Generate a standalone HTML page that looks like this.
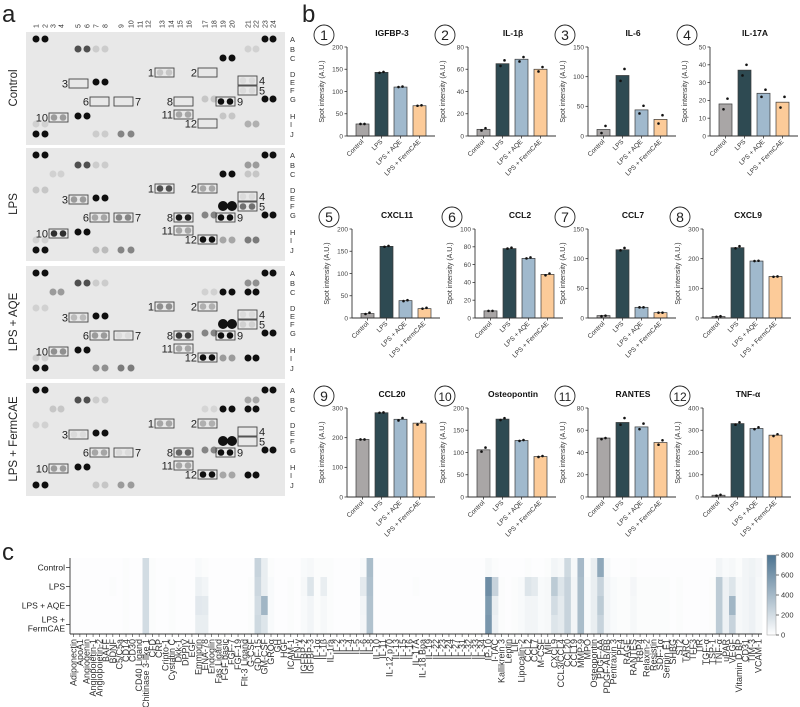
<!DOCTYPE html>
<html><head><meta charset="utf-8">
<style>
html,body{margin:0;padding:0;background:#fff;}
svg{display:block;font-family:"Liberation Sans",Arial,sans-serif;}
</style></head>
<body>
<svg id="fig" width="800" height="707" viewBox="0 0 800 707" xmlns="http://www.w3.org/2000/svg">
<defs>
<linearGradient id="cbgrad" x1="0" y1="1" x2="0" y2="0">
<stop offset="0" stop-color="#ffffff"/><stop offset="1" stop-color="#4c7390"/>
</linearGradient>
</defs>
<text x="2" y="22" font-size="24" fill="#222">a</text>
<text x="302" y="22" font-size="24" fill="#222">b</text>
<text x="2" y="560" font-size="24" fill="#222">c</text>
</svg>
<script>
// ---------- Bar chart data (panel b) ----------
const groups = ["Control","LPS","LPS + AQE","LPS + FermCAE"];
const chartTitles = ["IGFBP-3","IL-1β","IL-6","IL-17A","CXCL11","CCL2","CCL7","CXCL9","CCL20","Osteopontin","RANTES","TNF-α"];
const chartMax = [200,80,150,50,200,100,150,300,300,200,80,400];
const chartStep = [50,20,50,10,50,20,50,100,100,50,20,100];
const controlMeans = [27,6,11,18,10,8,4,5,194,106,53,8];
const lpsMeans = [143,65,102,37,161,78,115,237,284,175,67,330];
const aqeMeans = [110,69,44,24,39,67,18,192,262,127,63,308];
const fermMeans = [68,60,28,19,21,49,9,140,249,91,49,278];
const controlDots = [[27,27],[5,7],[5,17],[15,21],[9,12],[8,8],[3,4],[4,6],[194,194],[102,111],[52,53],[6,10]];
const lpsDots = [[142,144],[63,68],[93,113],[34,40],[160,162],[78,79],[114,118],[235,242],[284,285],[173,177],[65,71],[325,336]];
const aqeDots = [[110,111],[67,71],[38,51],[22,26],[38,40],[67,68],[18,18],[192,193],[258,266],[126,128],[61,66],[305,313]];
const fermDots = [[68,69],[58,62],[21,35],[16,22],[21,23],[48,50],[9,9],[139,140],[244,254],[90,92],[47,51],[274,282]];

// ---------- Heatmap data (panel c) ----------
const heatRows = ["Control","LPS","LPS + AQE","LPS +\nFermCAE"];
const analytes = ["Adiponectin","ApoA1","Angiogenin","Angiopoietin-1","Angiopoietin-2","BAFF","BDNF","C5/C5a","CD14","CD30","CD40 Ligand","Chitinase 3-like 1","CFD","CRP","Cripto-1","Cystatin C","Dkk-1","DPPIV","EGF","Emmprin","ENA-78","Endoglin","Fas Ligand","FGF basic","FGF-7","FGF-19","Flt-3 Ligand","G-CSF","GDF-15","GM-CSF","GROα","GH","HGF","ICAM-1","IFN-γ","IGFBP-2","IGFBP-3","IL-1α","IL-1β","IL-1ra","IL-2","IL-3","IL-4","IL-5","IL-6","IL-8","IL-10","IL-11","IL-12 p70","IL-13","IL-15","IL-16","IL-17A","IL-18 Bpa","IL-19","IL-22","IL-23","IL-24","IL-27","IL-31","IL-32","IL-33","IL-34","IP-10","I-TAC","Kallikrein 3","Leptin","LIF","Lipocalin-2","CCL2","CCL7","M-CSF","MIF","CXCL9","CCL3/CCL4","CCL20","CCL19","MMP-9","MPO","Osteopontin","PDGF-AA","PDGF-AB/BB","Pentraxin 3","PF4","RAGE","RANTES","RBP4","Relaxin-2","Resistin","SDF-1α","Serpin E1","SHBG","ST2","TARC","TFF3","TfR","TGF-α","TSP-1","TNF-α","uPAR","VEGF","Vitamin D BP","CD31","TIM-3","VCAM-1"];
const ctrlHeat = [10,10,10,10,10,10,10,10,20,10, 10,200,20,10,10,10,10,10,10,30, 20,10,10,10,10,10,10,10,250,100, 20,10,10,10,10,30,40,20,20,20, 10,10,10,10,30,380,10,10,10,10, 10,10,10,10,10,10,10,10,10,10, 10,10,10,40,20,10,10,10,10,20, 10,10,20,60,40,220,40,400,20,100, 500,40,10,10,10,20,10,10,10,10, 10,10,10,10,10,10,10,10,60,30, 40,20,60,70,50];
const lpsHeat = [10,10,10,10,10,10,20,10,20,10, 10,200,20,10,10,20,10,10,10,80, 60,10,10,10,10,10,10,20,230,100, 30,10,10,20,10,40,150,20,100,20, 10,10,10,10,120,360,10,10,10,10, 10,10,20,10,10,10,10,10,10,10, 10,10,10,650,250,20,10,20,30,150, 120,30,40,300,150,250,60,380,30,100, 250,60,30,20,20,50,20,20,20,20, 20,10,20,10,10,10,10,20,300,80, 150,40,60,80,40];
const aqeHeat = [10,10,10,10,10,10,10,10,20,10, 10,200,20,10,10,20,10,10,10,130, 120,10,10,10,10,10,10,20,200,420, 30,10,10,20,10,30,60,20,40,20, 10,10,10,10,60,350,10,10,10,10, 10,10,10,10,10,10,10,10,10,10, 10,10,10,580,100,20,10,20,30,60, 60,30,40,200,120,250,60,380,30,100, 300,60,30,20,20,40,20,20,20,20, 20,10,20,10,10,10,10,20,300,80, 420,40,60,80,40];
const fermHeat = [10,10,10,10,10,10,10,10,20,10, 10,200,20,10,10,20,10,10,10,100, 100,10,10,10,10,10,10,20,220,150, 30,10,10,20,10,30,60,20,40,20, 10,10,10,10,50,350,10,10,10,10, 10,10,10,10,10,10,10,10,10,10, 10,10,10,600,80,20,10,20,30,60, 60,30,40,150,120,250,60,380,30,100, 250,60,30,20,20,40,20,20,20,20, 20,10,20,10,10,10,10,20,300,80, 250,40,60,80,40];
const colorTicks = [0,200,400,600,800];

const svg = document.getElementById('fig');
const NS = 'http://www.w3.org/2000/svg';
function mk(tag, attrs, parent){ const e=document.createElementNS(NS,tag); for(const k in attrs) e.setAttribute(k,attrs[k]); (parent||svg).appendChild(e); return e; }

// ---------- Panel a: blots ----------
const colX = [36,45,53,61,78,87,96,105,121,131,140,148,162,171,180,189,205,214,223,232,248,256,265,273];
const rowY = {A:7,B:17,C:26,D:42,E:50,F:58,G:67,H:84,I:92,J:102};
const panelTops = [32,148,266,383];
const panelNames = ["Control","LPS","LPS + AQE","LPS + FermCAE"];
const boxes = [
 {n:"1",x:155,y:36,side:"l"},{n:"2",x:198,y:36,side:"l"},{n:"3",x:69,y:47,side:"l"},
 {n:"4",x:238,y:44,side:"r"},{n:"5",x:238,y:54,side:"r"},{n:"6",x:90,y:65,side:"l"},
 {n:"7",x:114,y:65,side:"r"},{n:"8",x:174,y:65,side:"l"},{n:"9",x:216,y:65,side:"r"},
 {n:"10",x:49,y:81,side:"l"},{n:"11",x:174,y:78,side:"l"},{n:"12",x:198,y:87,side:"l"}];
const boxVals = [
 [0.15,0,0,0.05,0.05,0,0,0,1,0.35,0.3,0],
 [0.7,0.3,0.35,0.05,0.55,0.3,0.45,0.95,1,0.85,0.3,1],
 [0.4,0.25,0.2,0.05,0.1,0.35,0.05,0.8,1,0.4,0.3,1],
 [0.3,0.25,0.05,0,0,0.3,0.05,0.6,1,0.35,0.3,1]];
const common = [[1,'A',1],[23,'A',1],[5,'B',0.7],[7,'B',0.12],[19,'C',1],[7,'E',1],[23,'G',1],[5,'H',1],[1,'J',1]];
const extra = [
 [[21,'B',0.1],[17,'G',0.15],[19,'H',0.15],[1,'I',0.1],[7,'J',0.12],[9,'J',0.45],[21,'I',0.25]],
 [[21,'B',0.35],[21,'C',0.15],[3,'C',0.1],[1,'D',0.15],[17,'G',0.45],[19,'I',0.3],[21,'I',0.5],[1,'I',0.1],[7,'J',0.2],[9,'J',0.45]],
 [[21,'B',0.4],[21,'C',1],[17,'C',0.1],[3,'C',0.35],[1,'D',0.1],[17,'G',0.45],[19,'I',0.35],[21,'I',1],[1,'I',0.1],[7,'J',0.4],[9,'J',0.5]],
 [[21,'B',0.3],[21,'C',1],[17,'C',0.08],[3,'C',0.15],[1,'D',0.1],[17,'G',0.45],[19,'I',0.3],[21,'I',1],[7,'J',0.15],[9,'J',0.35]]];
function gray(v){ const c=Math.round(230-(230-15)*v); return `rgb(${c},${c},${c})`; }
const colNums = mk('g',{});


colX.forEach((x,i)=>{ const t=mk('text',{x:0,y:0,'font-size':7,fill:'#333',transform:`translate(${x+2.5},28) rotate(-90)`},colNums); t.textContent=String(i+1); });
panelTops.forEach((top,p)=>{
  const g=mk('g',{});
  
  
  mk('rect',{x:26,y:top,width:259,height:113,fill:'#e8e8e8'},g);
  const lbl=mk('text',{x:0,y:0,'font-size':11.5,fill:'#222','text-anchor':'middle',transform:`translate(17,${top+56}) rotate(-90)`},g);
  
  
  lbl.textContent=panelNames[p];
  Object.keys(rowY).forEach(r=>{ const t=mk('text',{x:290,y:top+rowY[r]+3,'font-size':7.5,fill:'#333'},g); t.textContent=r; });
  const spots=common.concat(extra[p]);
  spots.forEach(s=>{ const y=top+rowY[s[1]]; [s[0]-1,s[0]].forEach(c=>{ mk('circle',{cx:colX[c],cy:y,r:3.5,fill:gray(s[2])},g); }); });
  if(p>0){ [223,232].forEach(x=>mk('circle',{cx:x,cy:top+58,r:5,fill:'#111'},g)); }
  boxes.forEach((b,i)=>{
    const bg=mk('g',{},g);
    
    
    const v=boxVals[p][i];
    if(v>0.02){ [b.x+5,b.x+14].forEach(x=>mk('circle',{cx:x,cy:top+b.y+4.5,r:3.3,fill:gray(v)},bg)); }
    mk('rect',{x:b.x,y:top+b.y,width:19,height:9,fill:'none',stroke:'#444','stroke-width':0.9},bg);
    const t=mk('text',{x:b.side==='l'?b.x-1:b.x+21,y:top+b.y+8.5,'font-size':11,fill:'#222','text-anchor':b.side==='l'?'end':'start'},bg);
    t.textContent=b.n;
  });
});

// ---------- Panel b: bar charts ----------
const seriesMeans=[controlMeans,lpsMeans,aqeMeans,fermMeans];
const seriesDots=[controlDots,lpsDots,aqeDots,fermDots];
const seriesColors=['#a9a6a6','#2e4a52','#a0b9cd','#fccb99'];
const axisXs=[[347,468,588,710],[352,475,588,703],[347,468,588,703]];
const rowTop=[47,229,408];
const PH=89, AXL=88;
chartTitles.forEach((title,k)=>{
  const row=Math.floor(k/4), col=k%4;
  const ax=axisXs[row][col], top=rowTop[row], base=top+PH;
  const yScale=v=>base-v/chartMax[k]*PH;
  const xScale=i=>ax+9+i*19;
  const g=mk('g',{});
  
  
  mk('circle',{cx:ax-23,cy:top-12,r:10,fill:'none',stroke:'#222','stroke-width':0.9},g);
  const cn=mk('text',{x:ax-23,y:top-7,'font-size':k>=9?12:14,fill:'#222','text-anchor':'middle'},g);
  
  
  cn.textContent=String(k+1);
  const tt=mk('text',{x:ax+45,y:top-11,'font-size':8.5,'font-weight':'bold',fill:'#111','text-anchor':'middle'},g);
  
  
  tt.textContent=title;
  const yl=mk('text',{x:0,y:0,'font-size':7,fill:'#333','text-anchor':'middle',transform:`translate(${ax-23},${top+PH/2}) rotate(-90)`},g);
  
  
  yl.textContent='Spot intensity (A.U.)';
  for(let v=0; v<=chartMax[k]; v+=chartStep[k]){
    const y=yScale(v);
    mk('line',{x1:ax-2.5,x2:ax,y1:y,y2:y,stroke:'#333','stroke-width':0.8},g);
    const t=mk('text',{x:ax-4,y:y+2.3,'font-size':6.5,fill:'#444','text-anchor':'end'},g);
    
    
    t.textContent=String(v);
  }
  groups.forEach((gname,i)=>{
    const m=seriesMeans[i][k], x=xScale(i);
    const r=mk('rect',{x:x,y:yScale(m),width:13,height:base-yScale(m),fill:seriesColors[i],stroke:'#3a3a3a','stroke-width':0.7},g);
    
    
    mk('line',{x1:x+6.5,x2:x+6.5,y1:base,y2:base+2.5,stroke:'#333','stroke-width':0.8},g);
    seriesDots[i][k].forEach((d,j)=>{
      const dt=mk('circle',{cx:x+6.5+(j?2:-2),cy:yScale(d),r:1.3,fill:'#111'},g);
      
      
    });
    const xl=mk('text',{x:0,y:0,'font-size':6.5,fill:'#333','text-anchor':'end',transform:`translate(${x+8},${base+6}) rotate(-45)`},g);
    
    
    xl.textContent=gname;
  });
  mk('line',{x1:ax,x2:ax,y1:top,y2:base,stroke:'#333','stroke-width':0.9},g);
  mk('line',{x1:ax,x2:ax+AXL,y1:base,y2:base,stroke:'#333','stroke-width':0.9},g);
});

// ---------- Panel c: heatmap ----------
const HX=70, HW=692, HT=558, RH=19;
const heatData=[ctrlHeat,lpsHeat,aqeHeat,fermHeat];
const cw=HW/analytes.length;
function heatColor(v){ const t=Math.min(1,v/800); const a=[255,255,255], b=[76,115,144]; return `rgb(${a.map((c,i)=>Math.round(c+(b[i]-c)*t)).join(',')})`; }
const hg=mk('g',{});


heatData.forEach((row,r)=>{
  row.forEach((v,c)=>{
    const cell=mk('rect',{x:HX+c*cw,y:HT+r*RH,width:cw+0.4,height:RH+0.4,fill:heatColor(v)},hg);
    
    
  });
});
heatRows.forEach((name,r)=>{
  const y=HT+r*RH+RH/2;
  mk('line',{x1:HX-4,x2:HX,y1:y,y2:y,stroke:'#333','stroke-width':0.8},hg);
  const t=mk('text',{x:HX-5,y:y+3,'font-size':8.5,fill:'#222','text-anchor':'end'},hg);
  
  
  const parts=name.split('\n');
  if(parts.length>1){ t.setAttribute('y',y-2); const s1=mk('tspan',{x:HX-5},t); s1.textContent=parts[0]; const s2=mk('tspan',{x:HX-5,dy:9},t); s2.textContent=parts[1]; }
  else t.textContent=name;
});
mk('line',{x1:HX,x2:HX,y1:HT,y2:HT+4*RH,stroke:'#333','stroke-width':0.9},hg);
mk('line',{x1:HX,x2:HX+HW,y1:HT+4*RH,y2:HT+4*RH,stroke:'#333','stroke-width':0.9},hg);
analytes.forEach((a,c)=>{
  const x=HX+c*cw+cw/2;
  mk('line',{x1:x,x2:x,y1:HT+4*RH,y2:HT+4*RH+3,stroke:'#333','stroke-width':0.6},hg);
  const t=mk('text',{x:0,y:0,'font-size':9,fill:'#333','text-anchor':'end',transform:`translate(${x+3},${HT+4*RH+5}) rotate(-90)`},hg);
  
  
  t.textContent=a;
});
const cb=mk('g',{});


mk('rect',{x:767,y:555,width:9,height:80,fill:'url(#cbgrad)',stroke:'#999','stroke-width':0.5},cb);
colorTicks.forEach(v=>{
  const y=635-v/800*80;
  mk('line',{x1:776,x2:779,y1:y,y2:y,stroke:'#333','stroke-width':0.7},cb);
  const t=mk('text',{x:781,y:y+2.5,'font-size':7.5,fill:'#333'},cb);
  
  
  t.textContent=String(v);
});
</script>
</body></html>
